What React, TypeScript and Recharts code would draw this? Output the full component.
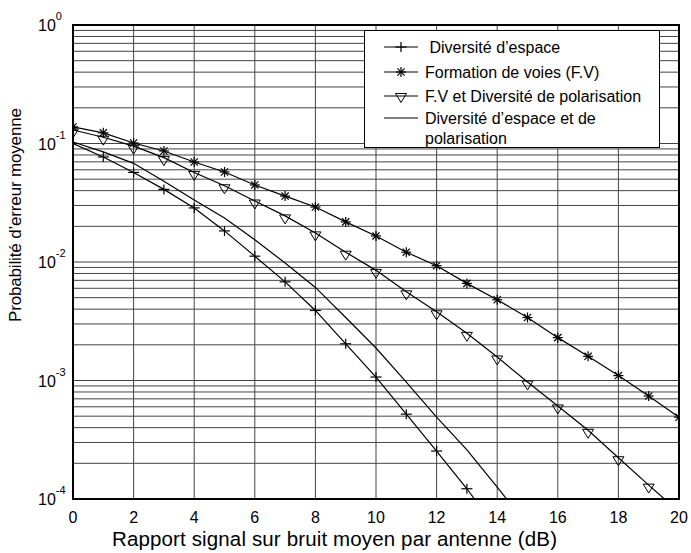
import React from 'react';
import { LineChart, Line, XAxis, YAxis, CartesianGrid, ReferenceArea } from 'recharts';

const snr = [0, 1, 2, 3, 4, 5, 6, 7, 8, 9, 10, 11, 12, 13, 14, 15, 16, 17, 18, 19, 20];
const diversiteEspace = [0.1, 0.077, 0.057, 0.041, 0.0286, 0.0183, 0.0112, 0.0068, 0.0039, 0.00204, 0.00107, 0.00052, 0.000254, 0.000122, 0.000055];
const formationVoies = [0.138, 0.123, 0.101, 0.0865, 0.0698, 0.0575, 0.0447, 0.036, 0.0291, 0.0218, 0.0166, 0.0121, 0.0093, 0.0066, 0.0048, 0.0034, 0.0023, 0.0016, 0.0011, 0.00074, 0.00049];
const fvPolarisation = [0.13, 0.113, 0.095, 0.076, 0.057, 0.044, 0.0327, 0.0245, 0.0176, 0.0121, 0.0085, 0.0056, 0.0038, 0.0025, 0.00158, 0.00097, 0.00061, 0.00038, 0.000223, 0.000131, 0.000078];
const espacePolarisation = [0.103, 0.085, 0.068, 0.048, 0.0333, 0.0235, 0.0154, 0.0098, 0.0061, 0.0034, 0.00188, 0.00097, 0.00049, 0.00026, 0.000126, 0.00006];

const xTicks = [0, 2, 4, 6, 8, 10, 12, 14, 16, 18, 20];
const decades = [-4, -3, -2, -1, 0];
const yTicks: number[] = [];
decades.forEach((d) => {
  if (d === 0) { yTicks.push(1); return; }
  for (let m = 1; m <= 9; m++) yTicks.push(parseFloat((m * Math.pow(10, d)).toPrecision(3)));
});

const legendItems = [
  { key: 'de', label: ' Diversité d’espace', marker: 'plus' },
  { key: 'fv', label: 'Formation de voies (F.V)', marker: 'star' },
  { key: 'fp', label: 'F.V et Diversité de polarisation', marker: 'tri' },
  { key: 'ep', label: 'Diversité d’espace et de\npolarisation', marker: 'none' },
];

const xLabelText = 'Rapport signal  sur bruit moyen par  antenne (dB)';
const yLabelText = 'Probabilité  d’erreur moyenne';

const data = snr.map((x, i) => ({
  snr: x,
  de: diversiteEspace[i] ?? null,
  fv: formationVoies[i] ?? null,
  fp: fvPolarisation[i] ?? null,
  ep: espacePolarisation[i] ?? null,
}));

const FONT = '"Liberation Sans", Arial, Helvetica, sans-serif';

const MarkerShape = ({ type, cx, cy }: { type: string; cx: number; cy: number }) => {
  if (type === 'plus') {
    return (
      <g stroke="#000" strokeWidth={1.2} fill="none">
        <line x1={cx - 5.5} y1={cy} x2={cx + 5.5} y2={cy} />
        <line x1={cx} y1={cy - 5} x2={cx} y2={cy + 5} />
      </g>
    );
  }
  if (type === 'star') {
    return (
      <g stroke="#000" strokeWidth={1.2} fill="none">
        <line x1={cx - 5} y1={cy} x2={cx + 5} y2={cy} />
        <line x1={cx} y1={cy - 5} x2={cx} y2={cy + 5} />
        <line x1={cx - 3.6} y1={cy - 3.6} x2={cx + 3.6} y2={cy + 3.6} />
        <line x1={cx - 3.6} y1={cy + 3.6} x2={cx + 3.6} y2={cy - 3.6} />
      </g>
    );
  }
  if (type === 'tri') {
    return (
      <polygon
        points={`${cx - 5.5},${cy - 1} ${cx + 5.5},${cy - 1} ${cx},${cy + 8}`}
        stroke="#000"
        strokeWidth={1}
        fill="none"
      />
    );
  }
  return null;
};

const makeDot = (type: string) => (props: any) => {
  const { cx, cy, index, value } = props;
  if (cx == null || cy == null || value == null || isNaN(cy)) return <g key={`${type}-${index}`} />;
  return (
    <g key={`${type}-${index}`}>
      <MarkerShape type={type} cx={cx} cy={cy} />
    </g>
  );
};

const YTick = (props: any) => {
  const { y, payload } = props;
  const v = payload.value as number;
  const lg = Math.log10(v);
  if (Math.abs(lg - Math.round(lg)) > 1e-6) return <g />;
  const exp = Math.round(lg);
  return (
    <text x={38} y={y + 6} fontSize={16} fontFamily={FONT} fill="#000">
      <tspan>10</tspan>
      <tspan dy={-11} fontSize={11}>{String(exp)}</tspan>
    </text>
  );
};

const YLabel = () => {
  const cx = 21;
  const cy = 215;
  return (
    <text
      x={cx}
      y={cy}
      transform={`rotate(-90 ${cx} ${cy})`}
      textAnchor="middle"
      fontSize={17}
      fontFamily={FONT}
      fill="#000"
      textLength={214}
      lengthAdjust="spacing"
    >
      {yLabelText}
    </text>
  );
};

const XLabel = () => (
  <text
    x={112}
    y={546}
    textAnchor="start"
    fontSize={20.5}
    fontFamily={FONT}
    fill="#000"
    textLength={445}
    lengthAdjust="spacing"
  >
    {xLabelText}
  </text>
);

const LegendBox = () => (
  <div
    style={{
      position: 'absolute',
      left: 364,
      top: 30,
      width: 294,
      height: 116,
      border: '1px solid #000',
      background: '#fff',
      fontFamily: FONT,
      fontSize: 16,
      color: '#000',
    }}
  >
    {legendItems.map((it, i) => {
      const tops = [6, 31, 55, 77];
      const lines = it.label.split('\n');
      return (
        <div key={it.key} style={{ position: 'absolute', left: 0, top: tops[i], width: 294 }}>
          <svg width={60} height={20} style={{ position: 'absolute', left: 0, top: 0 }}>
            <line x1={19} y1={10} x2={53} y2={10} stroke="#000" strokeWidth={1.2} />
            <MarkerShape type={it.marker} cx={36} cy={it.marker === 'tri' ? 8.5 : 10} />
          </svg>
          <div style={{ position: 'absolute', left: 60, top: 1, lineHeight: '20px', whiteSpace: 'pre' }}>
            {lines.map((l, j) => (
              <div key={j}>{l}</div>
            ))}
          </div>
        </div>
      );
    })}
  </div>
);

export default function App() {
  return (
    <div style={{ position: 'absolute', left: 0, top: 0, width: 691, height: 553, background: '#fff' }}>
      <LineChart
        width={691}
        height={553}
        data={data}
        margin={{ top: 25, right: 12, left: 0, bottom: 0 }}
        style={{ fontFamily: FONT }}
      >
        <CartesianGrid stroke="#444" strokeWidth={1} />
        <XAxis
          dataKey="snr"
          type="number"
          domain={[0, 20]}
          ticks={xTicks}
          interval={0}
          height={54}
          tickLine={false}
          axisLine={false}
          tickMargin={7}
          tick={{ fontSize: 16, fill: '#000', fontFamily: FONT }}
          label={<XLabel />}
          allowDataOverflow
        />
        <YAxis
          type="number"
          scale="log"
          domain={[1e-4, 1]}
          ticks={yTicks}
          interval={0}
          width={73}
          tickLine={false}
          axisLine={false}
          tick={<YTick />}
          label={<YLabel />}
          allowDataOverflow
        />
        <ReferenceArea x1={0} x2={20} y1={1e-4} y2={1} fill="none" stroke="#000" strokeWidth={2} ifOverflow="visible" />
        <Line dataKey="de" stroke="#000" strokeWidth={1.2} dot={makeDot('plus')} isAnimationActive={false} connectNulls={false} />
        <Line dataKey="fv" stroke="#000" strokeWidth={1.2} dot={makeDot('star')} isAnimationActive={false} connectNulls={false} />
        <Line dataKey="fp" stroke="#000" strokeWidth={1.2} dot={makeDot('tri')} isAnimationActive={false} connectNulls={false} />
        <Line dataKey="ep" stroke="#000" strokeWidth={1.2} dot={false} isAnimationActive={false} connectNulls={false} />
      </LineChart>
      <LegendBox />
    </div>
  );
}
